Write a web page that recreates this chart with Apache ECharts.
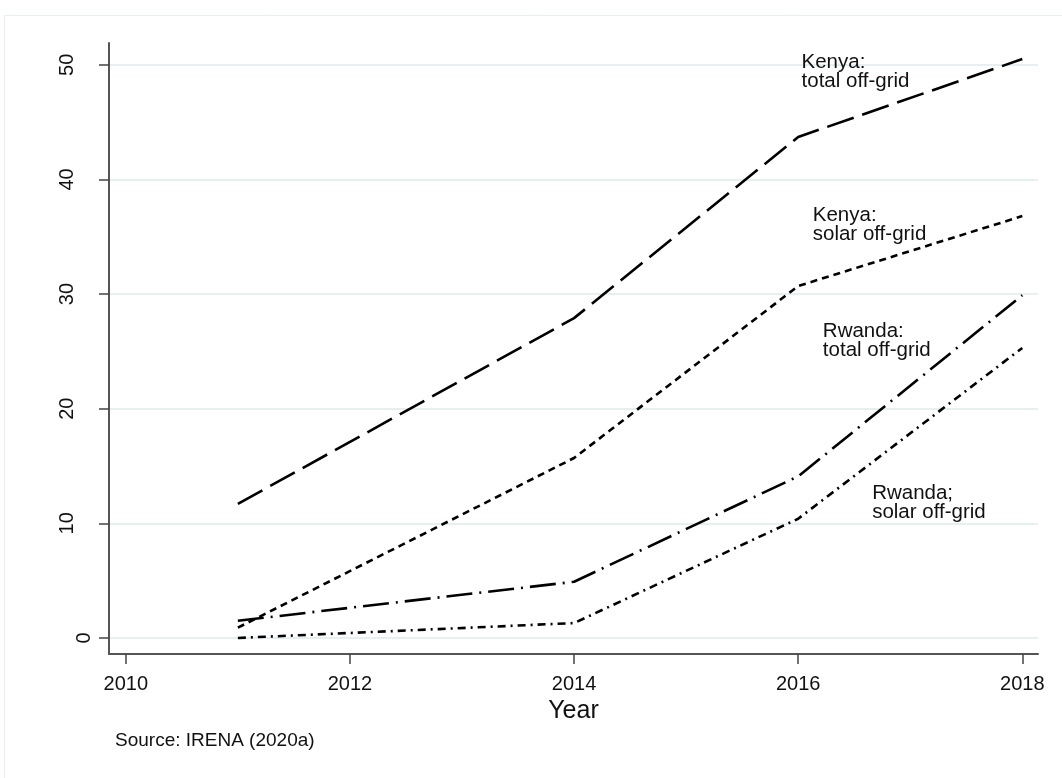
<!DOCTYPE html>
<html lang="en" style="height: 100%">
<head>
<meta charset="utf-8">
<title>Off-grid capacity, Kenya and Rwanda</title>
</head>
<body style="height: 100%; margin: 0; background: #fff">
<div id="container" style="width: 1062px; height: 778px"></div>

<script type="text/javascript" src="https://cdn.jsdelivr.net/npm/echarts@6/dist/echarts.min.js"></script>

<script type="text/javascript">

var dom = document.getElementById('container');
var myChart = echarts.init(dom);

// data
var years = [2011, 2014, 2016, 2018];
var kenyaTotal = [11.7, 27.9, 43.7, 50.5];
var kenyaSolar = [0.9, 15.7, 30.7, 36.8];
var rwandaTotal = [1.5, 4.9, 14.1, 29.9];
var rwandaSolar = [0.0, 1.3, 10.4, 25.3];

var xTicks = [2010, 2012, 2014, 2016, 2018];
var yTicks = [10, 20, 30, 40, 50];
var yTickZero = [0];

// line labels and where they sit (data coordinates)
var labelTexts = ['Kenya:\ntotal off-grid', 'Kenya:\nsolar off-grid', 'Rwanda:\ntotal off-grid', 'Rwanda;\nsolar off-grid'];
var labelX = [2016.03, 2016.13, 2016.22, 2016.66];
var labelY = [49.4, 36.0, 25.9, 11.8];

var FONT = 'Liberation Sans, Arial, sans-serif';

function pairs(ys) {
    return years.map(function (y, i) { return [y, ys[i]]; });
}

function makeSeries(name, ys, dash, idx) {
    return {
        name: name,
        type: 'line',
        data: pairs(ys),
        symbol: 'none',
        lineStyle: { color: '#000', width: 2.6, type: dash },
        markPoint: {
            symbol: 'circle',
            symbolSize: 0,
            silent: true,
            data: [{ coord: [labelX[idx], labelY[idx]], value: 0 }],
            label: {
                show: true,
                position: 'right',
                distance: 0,
                formatter: labelTexts[idx],
                color: '#111',
                fontFamily: FONT,
                fontSize: 20.5,
                lineHeight: 19
            }
        }
    };
}

var allTicks = yTickZero.concat(yTicks);
var plain = function (v) { return String(v); };

var option = {
    animation: false,
    backgroundColor: '#fff',
    grid: { left: 109, right: 24, top: 43, bottom: 124 },
    xAxis: {
        type: 'value',
        min: 2009.85,
        max: 2018.14,
        name: 'Year',
        nameLocation: 'middle',
        nameGap: 42,
        nameTextStyle: { color: '#111', fontFamily: FONT, fontSize: 25 },
        axisLine: { show: true, onZero: false, lineStyle: { color: '#555', width: 2 } },
        axisTick: { show: true, length: 10, customValues: xTicks, lineStyle: { color: '#444', width: 1.5 } },
        axisLabel: { customValues: xTicks, formatter: plain, margin: 20, color: '#111', fontFamily: FONT, fontSize: 20 },
        splitLine: { show: false }
    },
    yAxis: [{
        type: 'value',
        min: -1.4,
        max: 51.9,
        axisLine: { show: true, onZero: false, lineStyle: { color: '#555', width: 2 } },
        axisTick: { show: true, length: 10, customValues: allTicks, lineStyle: { color: '#444', width: 1.5 } },
        axisLabel: { customValues: yTicks, formatter: plain, rotate: 90, margin: 32, color: '#111', fontFamily: FONT, fontSize: 20 },
        splitLine: { show: true, customValues: allTicks, lineStyle: { color: '#e7eff1', width: 2 } }
    }, {
        type: 'value',
        min: -1.4,
        max: 51.9,
        position: 'left',
        axisLine: { show: false, onZero: false },
        axisTick: { show: false },
        axisLabel: { customValues: yTickZero, formatter: plain, rotate: 90, margin: 15, color: '#111', fontFamily: FONT, fontSize: 20 },
        splitLine: { show: false }
    }],
    graphic: [{
        type: 'rect',
        shape: { x: 4.5, y: 15.5, width: 1100, height: 800 },
        style: { fill: 'none', stroke: '#e9eeee', lineWidth: 1 },
        silent: true
    }, {
        type: 'text',
        left: 115,
        top: 731,
        style: { text: 'Source: IRENA (2020a)', fill: '#111', font: '19px ' + FONT }
    }],
    series: [
        makeSeries('Kenya: total off-grid', kenyaTotal, [28, 9], 0),
        makeSeries('Kenya: solar off-grid', kenyaSolar, [7, 5], 1),
        makeSeries('Rwanda: total off-grid', rwandaTotal, [26, 7, 2, 7], 2),
        makeSeries('Rwanda; solar off-grid', rwandaSolar, [8, 5, 2, 5], 3)
    ]
};

myChart.setOption(option);
window.addEventListener('resize', myChart.resize);
</script>
</body>
</html>
